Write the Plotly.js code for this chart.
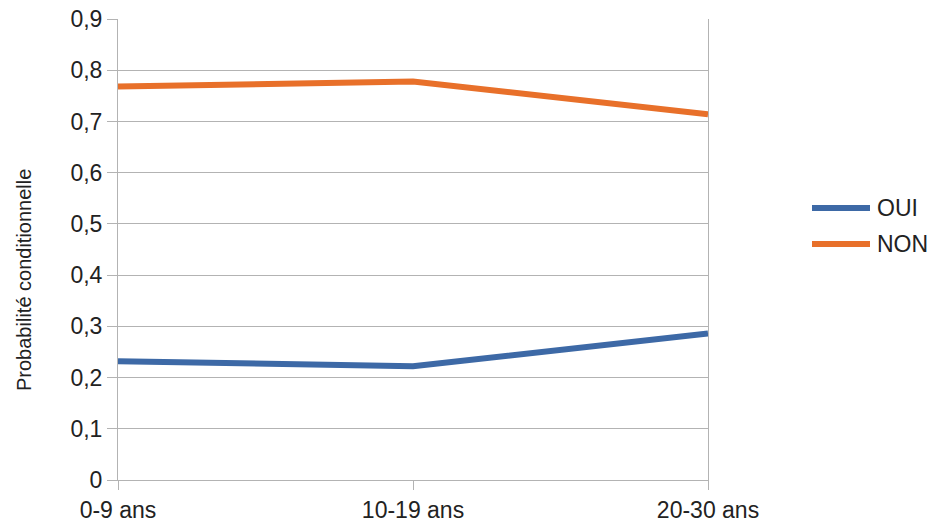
<!DOCTYPE html>
<html>
<head>
<meta charset="utf-8">
<script src="https://cdn.plot.ly/plotly-3.0.1.min.js"></script>
<style>html,body{margin:0;padding:0;background:#fff;}#chart{width:937px;height:527px;}</style>
</head>
<body>
<div id="chart"></div>
<script>
const categories = ["0-9 ans", "10-19 ans", "20-30 ans"];
const seriesNames = ["OUI", "NON"];
const seriesColors = ["#3d69a6", "#e8702a"];
const oui = [0.232, 0.222, 0.286];
const non = [0.768, 0.778, 0.714];
const yTickVals = [0, 0.1, 0.2, 0.3, 0.4, 0.5, 0.6, 0.7, 0.8, 0.9];
const yTickText = ["0", "0,1", "0,2", "0,3", "0,4", "0,5", "0,6", "0,7", "0,8", "0,9"];
const yTitle = "Probabilité conditionnelle";

const font = "Liberation Sans, Arial, sans-serif";
const series = [oui, non];
const traces = series.map((vals, i) => ({
  x: categories, y: vals, name: seriesNames[i], type: "scatter", mode: "lines",
  line: {color: seriesColors[i], width: 6}
}));

const W = 937, H = 527;
const mL = 118, mR = 229, mT = 19, mB = 47;
const pw = W - mL - mR, ph = H - mT - mB;
const px = v => (v - mL) / pw;
const py = v => 1 - (v - mT) / ph;

// custom legend (long line samples like the original)
const legY = [208, 244];
const shapes = [], annotations = [];
seriesNames.forEach((nm, i) => {
  shapes.push({type: "line", xref: "paper", yref: "paper",
    x0: px(812), x1: px(870), y0: py(legY[i]), y1: py(legY[i]),
    line: {color: seriesColors[i], width: 6}});
  annotations.push({xref: "paper", yref: "paper", x: px(875), y: py(legY[i]),
    xanchor: "left", yanchor: "middle", text: nm, showarrow: false,
    font: {size: 23, color: "#222", family: font}});
});
// y axis title
annotations.push({xref: "paper", yref: "paper", x: px(24), y: py(280),
  xanchor: "center", yanchor: "middle", text: yTitle, textangle: -90, showarrow: false,
  font: {size: 20, color: "#222", family: font}});

const layout = {
  width: W, height: H,
  margin: {l: mL, r: mR, t: mT, b: mB},
  paper_bgcolor: "#fff", plot_bgcolor: "#fff",
  font: {family: font, color: "#222"},
  showlegend: false,
  shapes: shapes, annotations: annotations,
  xaxis: {
    type: "category", range: [0, 2], showgrid: false, zeroline: false,
    showline: true, linecolor: "#b3b3b3", linewidth: 1,
    ticks: "outside", ticklen: 9, tickcolor: "#b3b3b3",
    tickfont: {size: 23, color: "#222"}
  },
  yaxis: {
    range: [0, 0.9], tickvals: yTickVals, ticktext: yTickText,
    showgrid: true, gridcolor: "#b3b3b3", gridwidth: 1, zeroline: false,
    showline: true, mirror: true, linecolor: "#b3b3b3", linewidth: 1,
    ticks: "outside", ticklen: 10, tickcolor: "#b3b3b3",
    tickfont: {size: 23, color: "#222"}
  }
};
Plotly.newPlot("chart", traces, layout, {displayModeBar: false, staticPlot: true});
</script>
</body>
</html>
